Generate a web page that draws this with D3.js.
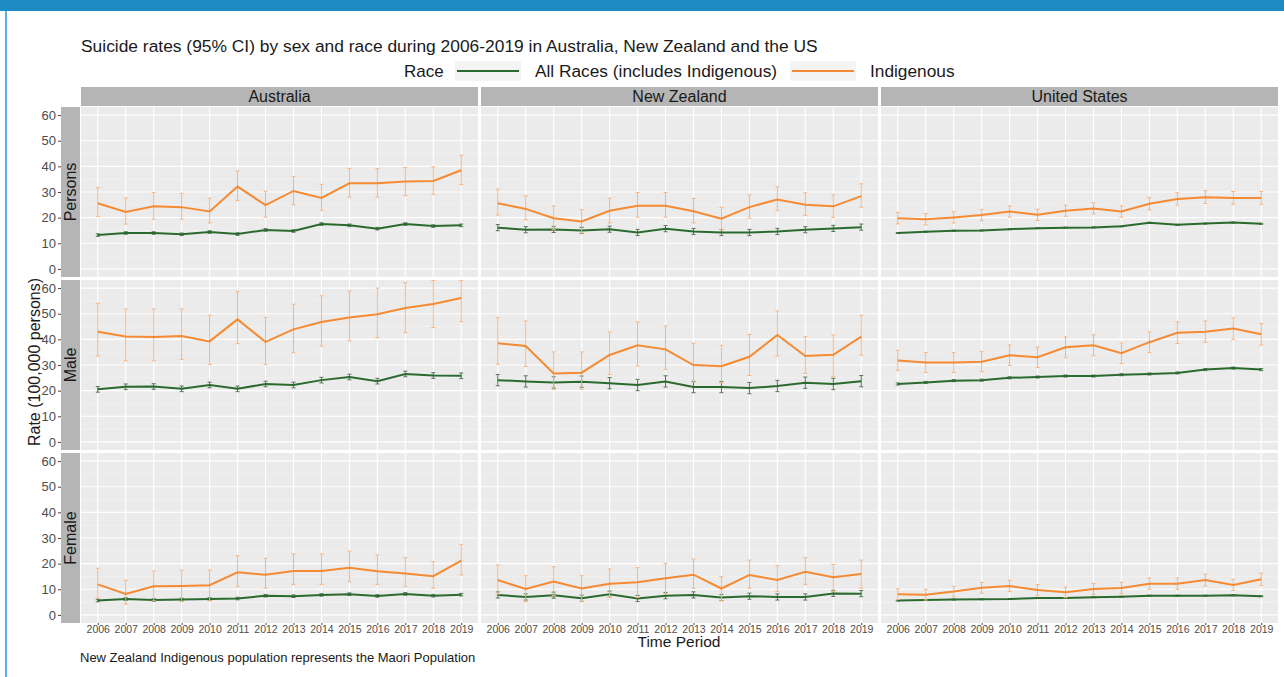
<!doctype html>
<html>
<head>
<meta charset="utf-8">
<script src="https://d3js.org/d3.v7.min.js"></script>
<style>
  body { margin: 0; background: #fff; }
  text { font-family: "Liberation Sans", Arial, sans-serif; }
</style>
</head>
<body>
<svg width="1284" height="677"></svg>
<script>
// ---- data (rate per 100,000; each entry is [estimate, lower 95% CI, upper 95% CI]) ----
var years = ["2006","2007","2008","2009","2010","2011","2012","2013","2014","2015","2016","2017","2018","2019"];
var countries = ["Australia", "New Zealand", "United States"];
var sexes = ["Persons", "Male", "Female"];
var races = ["All Races (includes Indigenous)", "Indigenous"];
var yTicks = [0, 10, 20, 30, 40, 50, 60];

var ausPersonsAll = [[13.2,12.7,13.7],[14.0,13.5,14.5],[14.0,13.5,14.5],[13.5,13.0,14.0],[14.4,13.9,14.9],[13.6,13.1,14.1],[15.2,14.7,15.7],[14.8,14.3,15.3],[17.5,17.0,18.0],[17.0,16.5,17.5],[15.7,15.2,16.2],[17.5,17.0,18.0],[16.7,16.2,17.2],[17.0,16.5,17.5]];
var ausPersonsInd = [[25.6,20.5,31.7],[22.2,17.5,27.6],[24.4,19.4,29.8],[24.1,19.4,29.5],[22.4,17.9,27.6],[32.1,26.6,38.2],[24.9,20.2,30.3],[30.4,25.0,36.1],[27.7,22.8,33.0],[33.4,28.0,39.2],[33.4,28.0,39.1],[34.1,28.6,39.6],[34.3,29.0,39.8],[38.5,32.9,44.4]];
var nzPersonsAll = [[16.1,14.9,17.3],[15.3,14.1,16.5],[15.4,14.2,16.6],[15.0,13.8,16.2],[15.5,14.3,16.7],[14.2,13.0,15.4],[15.7,14.5,16.9],[14.6,13.4,15.8],[14.2,13.0,15.4],[14.2,13.0,15.4],[14.6,13.4,15.8],[15.3,14.1,16.5],[15.8,14.6,17.0],[16.3,15.1,17.5]];
var nzPersonsInd = [[25.6,21.0,31.1],[23.4,19.2,28.5],[19.8,15.3,24.6],[18.5,14.0,23.1],[22.7,17.9,27.6],[24.6,20.2,29.8],[24.6,20.2,29.8],[22.5,17.9,27.5],[19.6,15.3,24.0],[24.1,19.8,28.9],[27.1,22.7,32.1],[25.0,20.9,29.7],[24.4,20.1,28.9],[28.4,24.1,33.2]];
var usPersonsAll = [[14.0,13.8,14.2],[14.5,14.3,14.7],[14.9,14.7,15.1],[15.0,14.8,15.2],[15.5,15.3,15.7],[15.9,15.7,16.1],[16.1,15.9,16.3],[16.2,16.0,16.4],[16.6,16.4,16.8],[18.0,17.8,18.2],[17.2,17.0,17.4],[17.7,17.5,17.9],[18.1,17.9,18.3],[17.6,17.4,17.8]];
var usPersonsInd = [[19.8,17.6,22.0],[19.4,17.2,21.6],[20.1,17.9,22.3],[21.0,18.8,23.2],[22.4,20.2,24.6],[21.1,18.9,23.3],[22.7,20.5,24.9],[23.6,21.4,25.8],[22.4,20.2,24.6],[25.4,23.0,27.8],[27.3,24.9,29.7],[28.0,25.5,30.5],[27.7,25.2,30.2],[27.7,25.2,30.2]];

var ausMaleAll = [[20.5,19.4,21.6],[21.5,20.4,22.6],[21.6,20.5,22.7],[20.7,19.6,21.8],[22.2,21.1,23.3],[20.7,19.6,21.8],[22.6,21.5,23.7],[22.2,21.1,23.3],[24.1,23.0,25.2],[25.3,24.2,26.4],[23.7,22.6,24.8],[26.5,25.4,27.6],[25.9,24.8,27.0],[25.8,24.7,26.9]];
var ausMaleInd = [[43.0,33.5,54.1],[41.1,31.6,51.8],[40.9,31.6,51.8],[41.3,32.2,51.8],[39.2,30.2,49.4],[47.8,38.3,58.7],[39.0,30.2,48.6],[43.9,34.8,53.7],[46.8,37.4,57.0],[48.5,39.4,58.9],[49.8,40.7,60.0],[52.2,42.6,62.2],[53.8,44.6,62.9],[56.1,46.9,63.0]];
var nzMaleAll = [[24.1,21.9,26.3],[23.6,21.4,25.8],[23.2,21.0,25.4],[23.5,21.3,25.7],[22.9,20.7,25.1],[22.2,20.0,24.4],[23.6,21.4,25.8],[21.4,19.2,23.6],[21.4,19.2,23.6],[21.0,18.8,23.2],[21.8,19.6,24.0],[23.1,20.9,25.3],[22.6,20.4,24.8],[23.7,21.5,25.9]];
var nzMaleInd = [[38.5,30.3,48.5],[37.4,29.4,47.2],[26.7,20.5,35.1],[27.0,20.5,35.1],[33.9,26.3,42.9],[37.7,29.6,46.8],[36.1,28.3,45.2],[30.0,23.3,38.5],[29.5,23.0,37.7],[33.2,25.9,41.9],[41.7,33.5,51.1],[33.5,26.7,41.1],[34.0,25.4,41.7],[41.1,33.8,49.4]];
var usMaleAll = [[22.6,22.2,23.0],[23.2,22.8,23.6],[23.9,23.5,24.3],[24.1,23.7,24.5],[25.0,24.6,25.4],[25.3,24.9,25.7],[25.7,25.3,26.1],[25.7,25.3,26.1],[26.2,25.8,26.6],[26.5,26.1,26.9],[26.9,26.5,27.3],[28.2,27.8,28.6],[28.8,28.4,29.2],[28.2,27.8,28.6]];
var usMaleInd = [[31.8,27.9,35.7],[31.0,27.1,34.9],[31.0,27.1,34.9],[31.3,27.4,35.2],[33.8,29.8,37.8],[33.0,29.0,37.0],[36.9,32.8,41.0],[37.7,33.6,41.8],[34.6,30.6,38.6],[38.9,34.9,42.9],[42.6,38.4,46.8],[43.0,38.8,47.2],[44.2,40.0,48.4],[42.0,37.8,46.2]];

var ausFemaleAll = [[5.6,5.1,6.1],[6.2,5.7,6.7],[5.8,5.3,6.3],[6.0,5.5,6.5],[6.2,5.7,6.7],[6.4,5.9,6.9],[7.5,7.0,8.0],[7.3,6.8,7.8],[7.8,7.3,8.3],[8.1,7.6,8.6],[7.4,6.9,7.9],[8.2,7.7,8.7],[7.5,7.0,8.0],[7.9,7.4,8.4]];
var ausFemaleInd = [[11.9,6.5,18.2],[8.2,4.2,13.5],[11.2,5.5,17.1],[11.3,5.2,17.4],[11.6,5.5,17.5],[16.6,11.0,23.1],[15.7,10.4,22.1],[17.1,11.9,23.8],[17.1,11.9,23.8],[18.4,13.0,24.9],[17.0,11.9,23.4],[16.2,11.0,22.3],[15.1,10.4,20.8],[21.2,15.6,27.5]];
var nzFemaleAll = [[7.8,6.6,9.0],[7.0,5.8,8.2],[7.7,6.5,8.9],[6.5,5.3,7.7],[8.1,6.9,9.3],[6.4,5.2,7.6],[7.5,6.3,8.7],[7.8,6.6,9.0],[6.8,5.6,8.0],[7.3,6.1,8.5],[7.0,5.8,8.2],[7.0,5.8,8.2],[8.4,7.2,9.6],[8.3,7.1,9.5]];
var nzFemaleInd = [[13.6,8.1,19.5],[10.1,5.2,15.3],[13.0,7.5,18.8],[10.3,5.2,15.3],[12.2,6.8,17.9],[12.7,6.8,18.4],[14.3,8.1,20.1],[15.7,10.4,21.8],[10.3,5.5,14.9],[15.6,10.4,21.4],[13.6,9.1,19.2],[16.8,11.9,22.3],[14.7,9.1,19.7],[16.0,10.4,21.4]];
var usFemaleAll = [[5.6,5.4,5.8],[5.8,5.6,6.0],[6.0,5.8,6.2],[6.1,5.9,6.3],[6.2,6.0,6.4],[6.6,6.4,6.8],[6.6,6.4,6.8],[6.9,6.7,7.1],[7.1,6.9,7.3],[7.5,7.3,7.7],[7.5,7.3,7.7],[7.5,7.3,7.7],[7.7,7.5,7.9],[7.3,7.1,7.5]];
var usFemaleInd = [[8.1,6.0,10.2],[7.9,5.8,10.0],[9.1,7.0,11.2],[10.6,8.5,12.7],[11.3,9.1,13.5],[9.7,7.6,11.8],[8.8,6.7,10.9],[10.1,7.9,12.3],[10.5,8.3,12.7],[12.2,10.0,14.4],[12.2,10.0,14.4],[13.6,11.3,15.9],[11.7,9.5,13.9],[13.9,11.5,16.3]];

// [sex][country] -> { all, ind }
var panels = [
  [{all: ausPersonsAll, ind: ausPersonsInd}, {all: nzPersonsAll, ind: nzPersonsInd}, {all: usPersonsAll, ind: usPersonsInd}],
  [{all: ausMaleAll, ind: ausMaleInd}, {all: nzMaleAll, ind: nzMaleInd}, {all: usMaleAll, ind: usMaleInd}],
  [{all: ausFemaleAll, ind: ausFemaleInd}, {all: nzFemaleAll, ind: nzFemaleInd}, {all: usFemaleAll, ind: usFemaleInd}]
];

var colAll = "#2b6a2e", colInd = "#f58a32";
var colAllBar = "#4f7a52", colIndBar = "#f6b583";

var svg = d3.select("svg");

// page frame
svg.append("rect").attr("x", 0).attr("y", 0).attr("width", 1284).attr("height", 11).attr("fill", "#1f8bc4");
svg.append("rect").attr("x", 5).attr("y", 11).attr("width", 2).attr("height", 666).attr("fill", "#5eaee0");

// layout
var panelLeft = 81, panelW = 397, gapX = 3;
var stripTop = 87, stripH = 19;
var rowTop = 107, rowH = 170, gapY = 3;
var rowStripX = 61, rowStripW = 19;

var y0 = d3.scaleLinear().domain([-3.15, 63.15]).range([rowH, 0]);

// title
svg.append("text").attr("x", 81).attr("y", 52).attr("font-size", 17.4).attr("fill", "#1a1a1a")
  .text("Suicide rates (95% CI) by sex and race during 2006-2019 in Australia, New Zealand and the US");

// legend
var leg = svg.append("g").attr("transform", "translate(0,71)");
leg.append("text").attr("x", 404).attr("y", 6).attr("font-size", 17).attr("fill", "#1a1a1a").text("Race");
[[455, colAll, 535, races[0]], [790, colInd, 870, races[1]]].forEach(function (k) {
  leg.append("rect").attr("x", k[0]).attr("y", -10).attr("width", 66).attr("height", 20).attr("fill", "#f4f4f4");
  leg.append("line").attr("x1", k[0] + 2).attr("x2", k[0] + 64).attr("y1", 0).attr("y2", 0)
    .attr("stroke", k[1]).attr("stroke-width", 2);
  leg.append("text").attr("x", k[2]).attr("y", 6).attr("font-size", 17.3).attr("fill", "#1a1a1a").text(k[3]);
});

// column strips
countries.forEach(function (c, ci) {
  var x = panelLeft + ci * (panelW + gapX);
  svg.append("rect").attr("x", x).attr("y", stripTop).attr("width", panelW).attr("height", stripH).attr("fill", "#b5b5b5");
  svg.append("text").attr("x", x + panelW / 2).attr("y", stripTop + 15).attr("text-anchor", "middle")
    .attr("font-size", 16).attr("fill", "#1a1a1a").text(c);
});

sexes.forEach(function (s, si) {
  var top = rowTop + si * (rowH + gapY);

  // row strip
  svg.append("rect").attr("x", rowStripX).attr("y", top).attr("width", rowStripW).attr("height", rowH).attr("fill", "#b5b5b5");
  svg.append("text").attr("transform", "translate(" + (rowStripX + 15) + "," + (top + rowH / 2) + ") rotate(-90)")
    .attr("text-anchor", "middle").attr("font-size", 16).attr("fill", "#1a1a1a").text(s);

  // y axis
  var yAx = svg.append("g").attr("transform", "translate(" + rowStripX + "," + top + ")")
    .call(d3.axisLeft(y0).tickValues(yTicks).tickSize(3).tickPadding(2));
  yAx.select(".domain").remove();
  yAx.selectAll(".tick line").attr("stroke", "#444");
  yAx.selectAll(".tick text").attr("font-size", 13).attr("fill", "#4d4d4d")
    .style("font-family", "'Liberation Sans', Arial, sans-serif");

  countries.forEach(function (c, ci) {
    var left = panelLeft + ci * (panelW + gapX);
    var x = d3.scalePoint().domain(years).range([0, panelW]).padding(0.6);
    var g = svg.append("g").attr("transform", "translate(" + left + "," + top + ")");

    g.append("rect").attr("width", panelW).attr("height", rowH).attr("fill", "#ebebeb");
    // minor grid
    g.selectAll(".minor").data([5, 15, 25, 35, 45, 55]).enter().append("line")
      .attr("x1", 0).attr("x2", panelW).attr("y1", y0).attr("y2", y0)
      .attr("stroke", "#f5f5f5").attr("stroke-width", 0.6);
    // major grid
    g.selectAll(".hmaj").data(yTicks).enter().append("line")
      .attr("x1", 0).attr("x2", panelW).attr("y1", y0).attr("y2", y0)
      .attr("stroke", "#fff").attr("stroke-width", 1.1);
    g.selectAll(".vmaj").data(years).enter().append("line")
      .attr("x1", x).attr("x2", x).attr("y1", 0).attr("y2", rowH)
      .attr("stroke", "#fff").attr("stroke-width", 1.1);

    var p = panels[si][ci];
    var series = [
      {vals: p.all, col: colAll, bar: colAllBar},
      {vals: p.ind, col: colInd, bar: colIndBar}
    ];
    var clipId = "clip" + si + ci;
    g.append("clipPath").attr("id", clipId).append("rect").attr("width", panelW).attr("height", rowH);
    var pg = g.append("g").attr("clip-path", "url(#" + clipId + ")");

    series.forEach(function (ser) {
      var pts = ser.vals.map(function (v, i) { return {yr: years[i], est: v[0], lo: v[1], hi: v[2]}; });
      var bars = pg.append("g");
      pts.forEach(function (d) {
        var cx = x(d.yr);
        bars.append("line").attr("x1", cx).attr("x2", cx).attr("y1", y0(d.lo)).attr("y2", y0(d.hi))
          .attr("stroke", ser.bar).attr("stroke-width", 1);
        [d.lo, d.hi].forEach(function (v) {
          bars.append("line").attr("x1", cx - 2).attr("x2", cx + 2).attr("y1", y0(v)).attr("y2", y0(v))
            .attr("stroke", ser.bar).attr("stroke-width", 1);
        });
      });
      pg.append("path").datum(pts)
        .attr("d", d3.line().x(function (d) { return x(d.yr); }).y(function (d) { return y0(d.est); }))
        .attr("fill", "none").attr("stroke", ser.col).attr("stroke-width", 2);
    });

    // x axis on the bottom row
    if (si === sexes.length - 1) {
      var xAx = g.append("g").attr("transform", "translate(0," + rowH + ")")
        .call(d3.axisBottom(x).tickSize(2).tickPadding(1));
      xAx.select(".domain").remove();
      xAx.selectAll(".tick line").attr("stroke", "#444");
      xAx.selectAll(".tick text").attr("font-size", 10.5).attr("fill", "#4d4d4d")
        .style("font-family", "'Liberation Sans', Arial, sans-serif");
    }
  });
});

// axis titles and note
svg.append("text").attr("transform", "translate(40,362) rotate(-90)").attr("text-anchor", "middle")
  .attr("font-size", 16).attr("fill", "#1a1a1a").text("Rate (100,000 persons)");
svg.append("text").attr("x", 679).attr("y", 647).attr("text-anchor", "middle")
  .attr("font-size", 15.5).attr("fill", "#1a1a1a").text("Time Period");
svg.append("text").attr("x", 80).attr("y", 662).attr("font-size", 13).attr("fill", "#1a1a1a")
  .text("New Zealand Indigenous population represents the Maori Population");
</script>
</body>
</html>
